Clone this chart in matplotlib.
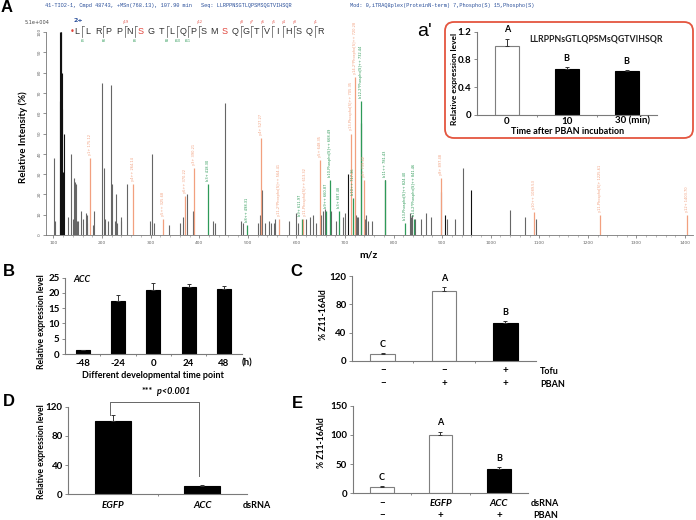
import numpy as np
import matplotlib.pyplot as plt
from matplotlib.patches import FancyBboxPatch

W, H = 696, 520
FAM = ['Lato', 'DejaVu Sans']

# ---------------- panel A: MS/MS spectrum ----------------
title_run = "41-TIO2-1, Cmpd 48743, +MSn(768.13), 107.90 min"
title_seq = "Seq: LLRPPNSGTLQPSMSQGTVIHSQR"
title_mod = "Mod: 0,iTRAQ8plex(ProteinN-term) 7,Phospho(S) 15,Phospho(S)"
peptide = "LLRPPNSGTLQPSMSQGTVIHSQR"
phospho_sites = [6, 14]
cleavage_after = [0, 2, 4, 5, 8, 9, 10, 11, 15, 16, 17, 18, 19, 20, 22]
b_marks = [0, 2, 5, 8, 9, 10]
y_marks = [4, 11, 15, 16, 17, 18, 19, 20, 22]

# unassigned peaks: 'k' = reporter ions (black), 'g' = grey
peak_mz = [101, 102.5, 113, 114, 115, 116, 117, 118, 119, 121, 129, 136, 140, 142, 144,
           146, 148, 151, 157, 160, 166, 168, 170, 181, 184, 200, 203, 206, 213, 218,
           221, 226, 228, 230, 238, 240, 252, 298, 303, 306, 338, 361, 366, 374, 387,
           428, 432, 454, 487, 491, 522, 525, 530, 536, 543, 548, 553, 556, 585, 600,
           604, 620, 627, 634, 640, 650, 655, 658, 671, 682, 695, 701, 705.4, 722, 724,
           727, 734, 741, 744, 748, 755, 781.4, 833, 836, 839, 844, 856, 867, 878, 898,
           905, 911, 926, 943, 960, 1039, 1071, 1093]
peak_int = [38, 7, 66, 100, 100, 100, 80, 62, 31, 50, 9, 40, 8, 28, 26,
            25, 7, 7, 12, 8, 11, 10, 6, 5, 12, 75, 33, 8, 7, 74,
            25, 7, 20, 6, 9, 7, 25, 7, 40, 6, 5, 6, 9, 20, 12,
            7, 6, 65, 7, 6, 6, 10, 22, 6, 7, 6, 6, 8, 7, 11,
            6, 8, 9, 10, 6, 10, 12, 13, 12, 7, 9, 11, 30, 10, 9,
            9, 55, 8, 10, 7, 7, 27, 11, 9, 10, 8, 8, 11, 9, 21,
            10, 8, 8, 33, 22, 12.5, 9, 8]
peak_kind = ['g', 'g', 'k', 'k', 'k', 'k', 'k', 'k', 'k', 'k'] + ['g'] * 62 + ['k'] + ['g'] * 3 + \
            ['k'] + ['g'] * 4 + ['k'] + ['g'] * 8 + ['k'] + ['g'] * 3 + ['k'] + ['g'] * 4

# assigned fragment ions
ion_mz = [175.12, 264.14, 325.68, 370.22, 390.21, 418.30, 498.31, 527.27, 564.41, 611.97,
          613.32, 648.35, 660.87, 668.49, 687.48, 712.0, 717.36, 720.28, 732.44, 739.42,
          781.43, 824.40, 841.46, 897.48, 1089.53, 1225.61, 1403.70]
ion_int = [38, 25, 8, 19, 33, 25, 5, 48, 8, 8,
           8, 37, 12, 27, 12, 50, 18, 78, 66, 27,
           27, 6, 8, 28, 11.5, 10, 10]
ion_type = ['y', 'y', 'y', 'y', 'y', 'b', 'b', 'y', 'y', 'b',
            'y', 'y', 'b', 'b', 'b', 'y', 'b', 'y', 'b', 'y',
            'b', 'b', 'b', 'y', 'y', 'y', 'y']
ion_label = ['y1+ 175.12', 'y4++ 264.14', 'y5++ 325.68', 'y6++ 370.22', 'y3+ 390.21',
             'b3+ 418.30', 'b8++ 498.31', 'y4+ 527.27', 'y11-2*Phospho[S]++ 564.41',
             'b9+ 611.97', 'y11-Phospho[S]++ 613.32', 'y5+ 648.35', 'b9++ 660.87',
             'b10-Phospho[S]++ 668.49', 'b3+ 687.48', 'y13-Phospho[S]++ 705.35',
             'b10++ 717.36', 'y14-2*Phospho[S]++ 720.28', 'b12-2*Phospho[S]++ 732.44',
             'y6+ 739.42', 'b11++ 781.43', 'b13-Phospho[S]++ 824.40',
             'b14-2*Phospho[S]++ 841.46', 'y8+ 897.48', 'y10++ 1089.53',
             'y11-Phospho[S]+ 1225.61', 'y12+ 1403.70']

# ---------------- panel a' ----------------
ap_cats = ['0', '10', '30 (min)']
ap_vals = [1.0, 0.66, 0.64]
ap_errs = [0.1, 0.03, 0.01]
ap_fill = ['w', 'k', 'k']
ap_letters = ['A', 'B', 'B']

# ---------------- panel B ----------------
b_cats = ['-48', '-24', '0', '24', '48']
b_vals = [1.2, 17.4, 20.8, 21.8, 21.2]
b_errs = [0.1, 1.9, 2.3, 1.0, 1.1]

# ---------------- panel C ----------------
c_vals = [9.5, 99, 53]
c_errs = [1.2, 5.5, 3.5]
c_fill = ['w', 'w', 'k']
c_letters = ['C', 'A', 'B']
c_tofu = ['\u2212', '\u2212', '+']
c_pban = ['\u2212', '+', '+']

# ---------------- panel D ----------------
d_cats = ['EGFP', 'ACC']
d_vals = [100, 11]
d_errs = [8, 1.5]

# ---------------- panel E ----------------
e_vals = [10.3, 100, 41.6]
e_errs = [1.7, 5.7, 4.0]
e_fill = ['w', 'w', 'k']
e_letters = ['C', 'A', 'B']
e_dsrna = ['\u2212', 'EGFP', 'ACC']
e_pban = ['\u2212', '+', '+']


fig = plt.figure(figsize=(6.96, 5.20), dpi=100)
fig.patch.set_facecolor('white')


def rect(x0, y0, x1, y1):
    return [x0 / W, 1 - y1 / H, (x1 - x0) / W, (y1 - y0) / H]


def ftext(x, y, s, **kw):
    kw.setdefault('family', FAM)
    fig.text(x / W, 1 - y / H, s, **kw)


# ===== spectrum =====
ax = fig.add_axes(rect(46, 32, 693, 235))
shade = {'k': '#111111', 'g': '#666666'}
for mz, inten, kind in zip(peak_mz, peak_int, peak_kind):
    ax.vlines(mz, 0, inten, color=shade[kind], lw=0.8)
ion_col = {'y': '#f2a07f', 'b': '#2e9a58'}
for mz, inten, t, lab in zip(ion_mz, ion_int, ion_type, ion_label):
    ax.vlines(mz, 0, inten, color=ion_col[t], lw=0.9)
    # nudge the two labels that sit on almost the same m/z
    xl = mz - 4 if lab.endswith('611.97') else (mz + 4 if lab.endswith('613.32') else mz)
    ax.text(xl, inten + 1.5, lab, rotation=90, fontsize=2.6, color=ion_col[t],
            ha='center', va='bottom', clip_on=False, family='DejaVu Sans')
ax.set_xlim(84.6, 1416.4)
ax.set_ylim(0, 100)
ax.set_xticks(np.arange(100, 1401, 100))
ax.set_xticks(np.arange(100, 1401, 20), minor=True)
ax.set_yticks(np.arange(0, 101, 10))
ax.tick_params(axis='x', labelsize=3.2, length=2, width=0.5, colors='#666666', pad=2.5)
ax.tick_params(axis='x', which='minor', length=1.2, width=0.4, colors='#888888')
ax.tick_params(axis='y', labelsize=3.2, length=2, width=0.5, colors='#666666', pad=1,
               labelrotation=90)
for s in ['top', 'right']:
    ax.spines[s].set_visible(False)
for s in ['left', 'bottom']:
    ax.spines[s].set_color('#777777')
    ax.spines[s].set_linewidth(0.6)
for lab in ax.get_yticklabels():
    lab.set_va('center')

ftext(1, 8, 'A', fontsize=12, fontweight='bold', family='Liberation Sans', va='center')
ftext(45, 6, title_run, fontsize=3.8, family='Liberation Mono', color='#2a4f9a', va='center')
ftext(201, 6, title_seq, fontsize=3.8, family='Liberation Mono', color='#2a4f9a', va='center')
ftext(350, 6, title_mod, fontsize=3.8, family='Liberation Mono', color='#2a4f9a', va='center')
ftext(25, 22, '5.1e+004', fontsize=3.6, family='DejaVu Sans', color='#444444', va='center')
ftext(23, 137, 'Relative Intensity (%)', fontsize=7, fontweight='bold', rotation=90,
      ha='center', va='center')
ftext(368, 255, 'm/z', fontsize=7.5, fontweight='bold', ha='center', va='center')

# peptide sequence with fragment marks
ftext(74, 20, '2+', fontsize=4.5, fontweight='bold', color='#2a4f9a', va='center',
      family='DejaVu Sans')
ftext(72, 32, '\u2022', fontsize=6, color='#e0433a', ha='center', va='center',
      family='DejaVu Sans')
step = (320 - 77) / (len(peptide) - 1)
for i, aa in enumerate(peptide):
    ftext(77 + i * step, 32, aa, fontsize=6.5, family='Liberation Sans',
          color='#e0433a' if i in phospho_sites else '#333333', ha='center', va='center')
for i in cleavage_after:
    xc = 77 + (i + 0.5) * step
    fig.add_artist(plt.Line2D([xc / W, xc / W], [1 - 26 / H, 1 - 37 / H], lw=0.5,
                              color='#555555'))
    fig.add_artist(plt.Line2D([xc / W, (xc + 2) / W], [1 - 26 / H, 1 - 26 / H], lw=0.5,
                              color='#555555'))
    if i in y_marks:
        ftext(xc + 1, 22.5, 'y%d' % (len(peptide) - i - 1), fontsize=2.3, color='#e0433a',
              ha='center', va='center', family='DejaVu Sans')
    if i in b_marks:
        ftext(xc, 41, 'b%d' % (i + 1), fontsize=2.3, color='#2e9a58', ha='center',
              va='center', family='DejaVu Sans')


# ===== bar panels =====
def bar_panel(box, values, errs, fills, ymax, yticks):
    a = fig.add_axes(rect(*box))
    n = len(values)
    for i, (v, e, f) in enumerate(zip(values, errs, fills)):
        white = f == 'w'
        a.bar(i, v, width=0.4, color='white' if white else 'black',
              edgecolor='#7f7f7f' if white else 'black', linewidth=0.8, zorder=2)
        a.errorbar(i, v, yerr=[[0], [e]], fmt='none', ecolor='#333333', elinewidth=0.7,
                   capsize=1.3, capthick=0.7, zorder=3)
    a.set_xlim(-0.5, n - 0.5)
    a.set_ylim(0, ymax)
    a.set_yticks(yticks)
    a.set_yticklabels([('%g' % t) for t in yticks], fontweight='bold', family=FAM)
    a.set_xticks(np.arange(n - 1) + 0.5)
    a.set_xticklabels([])
    a.tick_params(axis='y', labelsize=7, length=2, width=0.6, colors='#777777', pad=2,
                  labelcolor='black')
    a.tick_params(axis='x', length=1.5, width=0.6, colors='#777777')
    for s in ['top', 'right']:
        a.spines[s].set_visible(False)
    for s in ['left', 'bottom']:
        a.spines[s].set_color('#7a7a7a')
        a.spines[s].set_linewidth(0.8)
    return a


def under(a, box, i, dy, s, **kw):
    kw.setdefault('fontsize', 7)
    kw.setdefault('fontweight', 'bold')
    kw.setdefault('ha', 'center')
    kw.setdefault('family', FAM)
    a.text(i, -dy / (box[3] - box[1]), s, transform=a.get_xaxis_transform(),
           va='center', clip_on=False, **kw)


def letters(a, values, errs, labs):
    for i, (v, e, l) in enumerate(zip(values, errs, labs)):
        a.annotate(l, (i, v + e), xytext=(0, 3), textcoords='offset points',
                   ha='center', va='bottom', fontsize=6.5, fontweight='bold', family=FAM)


# a' inset
box = (476.7, 31.7, 656.7, 115)
a = bar_panel(box, ap_vals, ap_errs, ap_fill, 1.2, [0, 0.4, 0.8, 1.2])
letters(a, ap_vals, ap_errs, ap_letters)
under(a, box, 0, 6, ap_cats[0])
under(a, box, 1, 6, ap_cats[1])
under(a, box, 1.8, 6, ap_cats[2], ha='left')
ftext(568, 131.5, 'Time after PBAN incubation', fontsize=6.5, fontweight='bold',
      ha='center', va='center')
ftext(455, 79, 'Relative expression level', fontsize=6, fontweight='bold', rotation=90,
      ha='center', va='center')
ftext(596, 39, 'LLRPPNsGTLQPSMsQGTVIHSQR', fontsize=6.3, fontweight='bold', ha='center',
      va='center', color='#222222')
ftext(424, 31, "a'", fontsize=14, family='Liberation Sans', ha='center', va='center')
frame = FancyBboxPatch((4.45, 5.20 - 1.38), 2.48, 1.16,
                       boxstyle='round,pad=0,rounding_size=0.09',
                       transform=fig.dpi_scale_trans, fill=False,
                       edgecolor='#e4553f', linewidth=1.3)
fig.add_artist(frame)

# B
box = (65, 277.5, 241.7, 354)
a = bar_panel(box, b_vals, b_errs, ['k'] * 5, 25, [0, 5, 10, 15, 20, 25])
for i, c in enumerate(b_cats):
    under(a, box, i, 9, c)
ftext(246.5, 363, '(h)', fontsize=7, fontweight='bold', ha='center', va='center')
ftext(153, 375.5, 'Different developmental time point', fontsize=6.5, fontweight='bold',
      ha='center', va='center')
ftext(41.5, 322, 'Relative expression level', fontsize=6.2, fontweight='bold',
      rotation=90, ha='center', va='center')
ftext(73, 279, 'ACC', fontsize=6.5, fontweight='bold', style='italic', va='center')
ftext(3, 271, 'B', fontsize=12, fontweight='bold', family='Liberation Sans', va='center')

# C
box = (352, 276, 536, 361)
a = bar_panel(box, c_vals, c_errs, c_fill, 120, [0, 40, 80, 120])
letters(a, c_vals, c_errs, c_letters)
for i in range(3):
    under(a, box, i, 9.5, c_tofu[i])
    under(a, box, i, 22.5, c_pban[i])
ftext(540, 371.5, 'Tofu', fontsize=6.5, fontweight='bold', va='center')
ftext(540, 384.3, 'PBAN', fontsize=6.5, fontweight='bold', va='center')
ftext(323, 315, '% Z11-16Ald', fontsize=6.2, fontweight='bold', rotation=90,
      ha='center', va='center')
ftext(290, 271, 'C', fontsize=12, fontweight='bold', family='Liberation Sans', va='center')

# D
box = (68.3, 406.7, 246.7, 494.3)
a = bar_panel(box, d_vals, d_errs, ['k', 'k'], 120, [0, 40, 80, 120])
for i, c in enumerate(d_cats):
    under(a, box, i, 11.5, c, style='italic')
a.plot([-0.03, -0.03, 0.97, 0.97], [109, 127, 127, 25], color='#666666', lw=0.7,
       clip_on=False)
a.text(0.38, 140.5, '***', fontsize=6.5, fontweight='bold', ha='center', va='center',
       family=FAM)
a.text(0.49, 140.5, 'p<0.001', fontsize=6.5, fontweight='bold', style='italic',
       ha='left', va='center', family=FAM)
ftext(243, 506, 'dsRNA', fontsize=6.5, fontweight='bold', va='center')
ftext(41.5, 452, 'Relative expression level', fontsize=6.2, fontweight='bold',
      rotation=90, ha='center', va='center')
ftext(3, 401.5, 'D', fontsize=12, fontweight='bold', family='Liberation Sans', va='center')

# E
box = (352.7, 405.8, 528.3, 493.3)
a = bar_panel(box, e_vals, e_errs, e_fill, 150, [0, 50, 100, 150])
letters(a, e_vals, e_errs, e_letters)
for i in range(3):
    under(a, box, i, 10, e_dsrna[i], style='normal' if i == 0 else 'italic')
    under(a, box, i, 22.5, e_pban[i])
ftext(531, 503.3, 'dsRNA', fontsize=6.5, fontweight='bold', va='center')
ftext(533, 516, 'PBAN', fontsize=6.5, fontweight='bold', va='center')
ftext(322, 443, '% Z11-16Ald', fontsize=6.2, fontweight='bold', rotation=90,
      ha='center', va='center')
ftext(292, 404, 'E', fontsize=12, fontweight='bold', family='Liberation Sans', va='center')

fig.savefig('out.png', dpi=100, facecolor='white')
